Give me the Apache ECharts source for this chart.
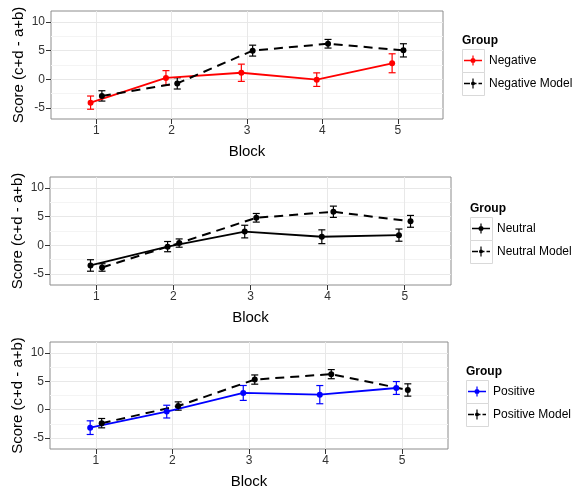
<!DOCTYPE html>
<html><head><meta charset="utf-8">
<script src="https://cdn.jsdelivr.net/npm/echarts@6/dist/echarts.min.js"></script>
<style>html,body{margin:0;padding:0;background:#fff}#c{width:576px;height:491px}</style>
</head><body><div id="c"></div>
<script>
// ---- data ----
const blocks = [1, 2, 3, 4, 5];
const xTicks = [1, 2, 3, 4, 5];
const yTicks = [-5, 0, 5, 10];
const yMinorTicks = [-2.5, 2.5, 7.5];

const negativeMean = [-4.05, 0.25, 1.15, -0.05, 2.8];
const negativeErr = [1.15, 1.27, 1.5, 1.18, 1.65];
const negativeModelMean = [-2.88, -0.7, 5.0, 6.2, 5.05];
const negativeModelErr = [0.9, 0.98, 0.95, 0.75, 1.15];

const neutralMean = [-3.5, -0.22, 2.4, 1.5, 1.78];
const neutralErr = [1.0, 0.89, 1.1, 1.2, 1.06];
const neutralModelMean = [-3.85, 0.4, 4.8, 5.85, 4.18];
const neutralModelErr = [0.65, 0.72, 0.75, 0.98, 1.03];

const positiveMean = [-3.15, -0.33, 2.95, 2.65, 3.82];
const positiveErr = [1.2, 1.12, 1.31, 1.6, 1.13];
const positiveModelMean = [-2.36, 0.65, 5.3, 6.25, 3.47];
const positiveModelErr = [0.82, 0.73, 0.81, 0.8, 1.08];

const groupNames = ['Negative', 'Neutral', 'Positive'];
const groupColors = ['#ff0000', '#000000', '#0000ff'];

// ---- layout / style ----
const FONT = '"Liberation Sans", Arial, sans-serif';
const DODGE = 0.075;
const panels = [
  {grid: {left: 51, top: 11, width: 392, height: 108}, legLeft: 462, legTop: 49,
   mean: negativeMean, err: negativeErr, mMean: negativeModelMean, mErr: negativeModelErr},
  {grid: {left: 50, top: 177, width: 401, height: 108}, legLeft: 470, legTop: 217,
   mean: neutralMean, err: neutralErr, mMean: neutralModelMean, mErr: neutralModelErr},
  {grid: {left: 50, top: 342, width: 398, height: 107}, legLeft: 466, legTop: 380,
   mean: positiveMean, err: positiveErr, mMean: positiveModelMean, mErr: positiveModelErr}
];

// key glyphs in a 22x23 box (tiny corner specks fix the bounding box)
const CORNERS = 'M0,0 L0.001,0 L0,0.001 Z M22,23 L21.999,23 L22,22.999 Z ';
const ICON_SOLID = 'path://' + CORNERS +
  'M2,10.7 L20,10.7 L20,12.3 L2,12.3 Z M10.4,6.5 L11.6,6.5 L11.6,16.5 L10.4,16.5 Z M13.5,11.5 A2.5,2.5 0 1 1 8.5,11.5 A2.5,2.5 0 1 1 13.5,11.5 Z';
const ICON_DASH = 'path://' + CORNERS +
  'M2,10.7 L8,10.7 L8,12.3 L2,12.3 Z M10,10.7 L14.5,10.7 L14.5,12.3 L10,12.3 Z M16.5,10.7 L20,10.7 L20,12.3 L16.5,12.3 Z M10.4,6.5 L11.6,6.5 L11.6,16.5 L10.4,16.5 Z M13,11.5 A2,2 0 1 1 9,11.5 A2,2 0 1 1 13,11.5 Z';

function errRender(color) {
  return function (params, api) {
    const x = api.value(0), lo = api.value(1), hi = api.value(2);
    const t = api.coord([x, hi]), b = api.coord([x, lo]);
    const w = 3.5;
    const st = {stroke: color, lineWidth: 1.2};
    return {type: 'group', children: [
      {type: 'line', shape: {x1: t[0], y1: t[1], x2: b[0], y2: b[1]}, style: st},
      {type: 'line', shape: {x1: t[0] - w, y1: t[1], x2: t[0] + w, y2: t[1]}, style: st},
      {type: 'line', shape: {x1: b[0] - w, y1: b[1], x2: b[0] + w, y2: b[1]}, style: st}
    ]};
  };
}

const grids = [], xAxes = [], yAxes = [], series = [], legends = [], graphics = [];
panels.forEach((p, i) => {
  const name = groupNames[i], color = groupColors[i];
  grids.push(Object.assign({show: true, borderColor: '#8c8c8c', borderWidth: 1, backgroundColor: '#fff'}, p.grid));
  xAxes.push({
    type: 'value', gridIndex: i, min: 0.4, max: 5.6, position: 'bottom',
    name: 'Block', nameLocation: 'middle', nameGap: 25, nameMoveOverlap: false,
    nameTextStyle: {fontSize: 15, color: '#000', fontFamily: FONT},
    axisLine: {show: false, onZero: false},
    axisTick: {show: true, length: 5, lineStyle: {color: '#333'}, customValues: xTicks},
    axisLabel: {fontSize: 12, color: '#333', fontFamily: FONT, margin: 6, customValues: xTicks},
    splitLine: {show: true, lineStyle: {color: '#e8e8e8', width: 1}}
  });
  yAxes.push({
    type: 'value', gridIndex: i, min: -6.9, max: 11.9, position: 'left',
    name: 'Score (c+d - a+b)', nameLocation: 'middle', nameGap: 25, nameMoveOverlap: false,
    nameTextStyle: {fontSize: 15, color: '#000', fontFamily: FONT},
    axisLine: {show: false, onZero: false},
    axisTick: {show: true, length: 5, lineStyle: {color: '#333'}, customValues: yTicks},
    axisLabel: {fontSize: 12, color: '#333', fontFamily: FONT, margin: 6, customValues: yTicks},
    splitLine: {show: true, lineStyle: {color: '#e8e8e8', width: 1}}
  });
  yAxes.push({
    type: 'value', gridIndex: i, min: -6.9, max: 11.9, position: 'left',
    axisLine: {show: false, onZero: false}, axisLabel: {show: false},
    axisTick: {show: false, customValues: yMinorTicks},
    splitLine: {show: true, lineStyle: {color: '#f4f4f4', width: 1}}
  });
  const yIdx = i * 2;
  series.push({
    type: 'custom', xAxisIndex: i, yAxisIndex: yIdx, renderItem: errRender(color),
    encode: {x: 0, y: [1, 2]}, silent: true, z: 2,
    data: blocks.map((b, k) => [b - DODGE, p.mean[k] - p.err[k], p.mean[k] + p.err[k]])
  });
  series.push({
    type: 'custom', xAxisIndex: i, yAxisIndex: yIdx, renderItem: errRender('#000'),
    encode: {x: 0, y: [1, 2]}, silent: true, z: 2,
    data: blocks.map((b, k) => [b + DODGE, p.mMean[k] - p.mErr[k], p.mMean[k] + p.mErr[k]])
  });
  series.push({
    name: name, type: 'line', xAxisIndex: i, yAxisIndex: yIdx, z: 3,
    symbol: 'circle', symbolSize: 6, showSymbol: true,
    lineStyle: {color: color, width: 1.8},
    itemStyle: {color: color, borderWidth: 0},
    data: blocks.map((b, k) => [b - DODGE, p.mean[k]])
  });
  series.push({
    name: name + ' Model', type: 'line', xAxisIndex: i, yAxisIndex: yIdx, z: 3,
    symbol: 'circle', symbolSize: 6, showSymbol: true,
    lineStyle: {color: '#000', width: 2, type: [9, 6]},
    itemStyle: {color: '#000', borderWidth: 0},
    data: blocks.map((b, k) => [b + DODGE, p.mMean[k]])
  });
  legends.push({
    orient: 'vertical', left: p.legLeft, top: p.legTop, padding: 0, itemGap: 0,
    itemWidth: 22, itemHeight: 23, selectedMode: false,
    textStyle: {fontSize: 12, color: '#000', fontFamily: FONT},
    data: [
      {name: name, icon: ICON_SOLID, itemStyle: {color: color, borderWidth: 0}},
      {name: name + ' Model', icon: ICON_DASH, itemStyle: {color: '#000', borderWidth: 0}}
    ]
  });
  graphics.push({type: 'text', x: p.legLeft, y: p.legTop - 8.5,
    style: {text: 'Group', font: 'bold 12px ' + FONT, fill: '#000', verticalAlign: 'middle'}});
  for (let k = 0; k < 2; k++) {
    graphics.push({type: 'rect', z: -1,
      shape: {x: p.legLeft + 0.5, y: p.legTop + k * 23 + 0.5, width: 22, height: 23},
      style: {fill: '#fff', stroke: '#d9d9d9', lineWidth: 1}});
  }
});

const chart = echarts.init(document.getElementById('c'), null, {renderer: 'canvas'});
chart.setOption({
  animation: false,
  backgroundColor: '#fff',
  textStyle: {fontFamily: FONT},
  grid: grids, xAxis: xAxes, yAxis: yAxes, series: series,
  legend: legends, graphic: graphics
});
</script></body></html>
